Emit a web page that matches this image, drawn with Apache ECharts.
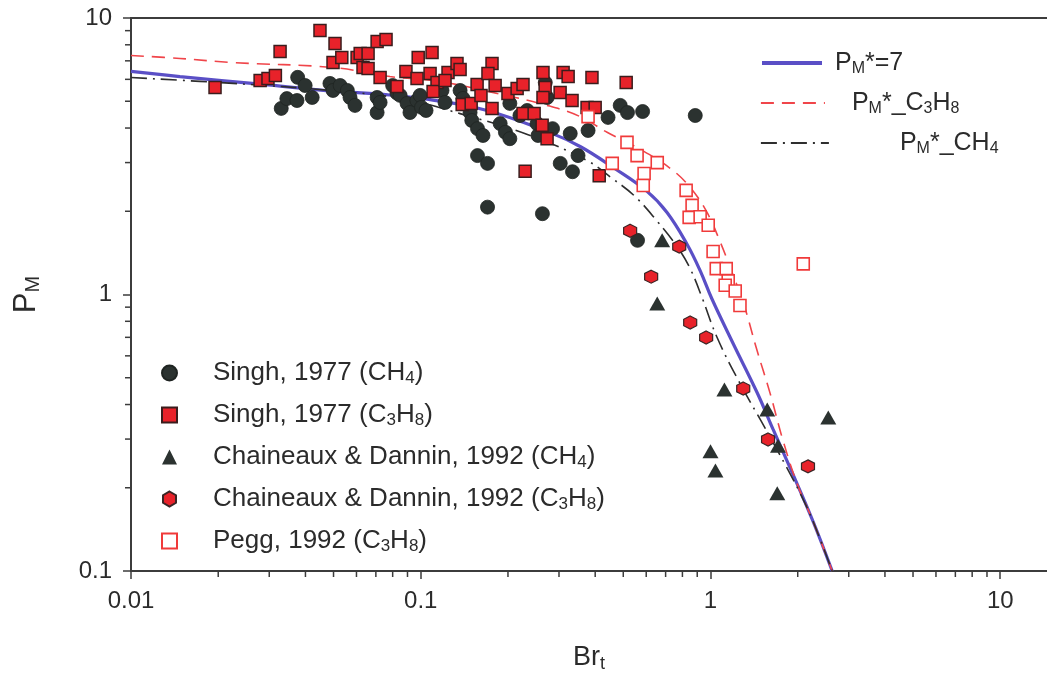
<!DOCTYPE html>
<html><head><meta charset="utf-8">
<script src="https://cdn.jsdelivr.net/npm/echarts@6/dist/echarts.min.js"></script>
<style>html,body{margin:0;padding:0;background:#fff;}#c{width:1047px;height:673px;}</style>
</head><body><div id="c"></div>
<script>
// ---------- data ----------
const xTickLabels = ['0.01', '0.1', '1', '10'];
const yTickLabels = ['0.1', '1', '10'];
const xMinorTicks = [0.02,0.03,0.04,0.05,0.06,0.07,0.08,0.09,0.2,0.3,0.4,0.5,0.6,0.7,0.8,0.9,2,3,4,5,6,7,8,9];
const yMinorTicks = [0.2,0.3,0.4,0.5,0.6,0.7,0.8,0.9,2,3,4,5,6,7,8,9];

const seriesNames = ['Singh, 1977 (CH4)', 'Singh, 1977 (C3H8)', 'Chaineaux & Dannin, 1992 (CH4)', 'Chaineaux & Dannin, 1992 (C3H8)', 'Pegg, 1992 (C3H8)'];
const seriesRich = ['Singh, 1977 (CH{s|4})', 'Singh, 1977 (C{s|3}H{s|8})', 'Chaineaux & Dannin, 1992 (CH{s|4})', 'Chaineaux & Dannin, 1992 (C{s|3}H{s|8})', 'Pegg, 1992 (C{s|3}H{s|8})'];
const lineNames = ['PM*=7', 'PM*_C3H8', 'PM*_CH4'];
const lineRich = ['P{s|M}*=7', 'P{s|M}*_C{s|3}H{s|8}', 'P{s|M}*_CH{s|4}'];

const singhCH4 = [
  [0.0330,4.71],[0.0345,5.11],[0.0374,5.03],[0.0376,6.10],[0.0399,5.70],[0.0422,5.16],[0.0486,5.80],[0.0498,5.47],
  [0.0527,5.70],[0.0558,5.47],[0.0570,5.16],[0.0593,4.83],[0.0707,5.16],[0.0707,4.55],[0.0724,4.95],[0.0800,5.70],
  [0.0828,5.35],[0.0849,5.25],[0.0897,4.91],[0.0918,4.55],[0.0970,5.03],[0.0995,5.25],[0.1006,4.75],[0.1043,4.63],
  [0.1184,5.47],[0.1213,4.95],[0.1367,5.47],[0.1399,5.12],[0.148,4.55],[0.150,4.26],[0.157,3.98],[0.164,3.76],
  [0.157,3.18],[0.170,2.98],[0.170,2.07],[0.188,4.15],[0.196,3.86],[0.203,3.66],[0.203,4.91],[0.220,4.44],
  [0.233,4.63],[0.252,4.15],[0.254,3.76],[0.269,5.84],[0.273,5.16],[0.285,3.98],[0.263,1.96],[0.303,2.98],
  [0.334,2.78],[0.349,3.18],[0.328,3.82],[0.378,3.92],[0.443,4.37],[0.488,4.83],[0.517,4.55],[0.583,4.59],
  [0.560,1.57],[0.886,4.44]
];
const singhC3H8 = [
  [0.0195,5.61],[0.0279,5.94],[0.0297,6.04],[0.0315,6.20],[0.0327,7.57],[0.0449,9.01],[0.0506,8.09],[0.0498,6.90],
  [0.0534,7.20],[0.0603,7.20],[0.0618,7.44],[0.0658,7.44],[0.0707,8.22],[0.0759,8.36],[0.0632,6.62],[0.0658,6.57],
  [0.0724,6.09],[0.0828,5.65],[0.0889,6.41],[0.098,7.20],[0.0971,6.04],[0.1094,7.50],[0.1077,6.30],[0.1138,5.84],
  [0.1103,5.42],[0.1242,6.35],[0.1334,6.85],[0.1367,6.51],[0.1213,5.94],[0.139,4.87],[0.1493,4.91],[0.1565,5.75],
  [0.1614,5.25],[0.1762,6.85],[0.1706,6.30],[0.1806,5.70],[0.1762,4.71],[0.200,5.33],[0.2151,5.56],[0.2254,5.75],
  [0.2254,4.51],[0.2462,4.51],[0.2642,6.35],[0.2687,5.61],[0.2642,5.16],[0.2624,4.09],[0.2729,3.66],[0.3027,5.38],
  [0.310,6.35],[0.3226,6.14],[0.3328,5.03],[0.3899,6.09],[0.375,4.75],[0.3999,4.75],[0.5117,5.84],[0.2292,2.79],
  [0.413,2.69]
];
const chaineauxCH4 = [
  [0.681,1.57],[0.655,0.928],[1.117,0.453],[1.57,0.384],[2.55,0.359],[1.0,0.271],[1.04,0.231],[1.70,0.191],[1.71,0.284]
];
const chaineauxC3H8 = [
  [0.528,1.70],[0.780,1.49],[0.624,1.16],[0.851,0.792],[0.966,0.699],[1.297,0.457],[1.58,0.299],[2.17,0.239]
];
const pegg = [
  [0.378,4.40],[0.515,3.55],[0.558,3.18],[0.458,2.98],[0.655,3.00],[0.590,2.74],[0.586,2.48],[0.824,2.38],
  [0.864,2.10],[0.844,1.90],[0.921,1.91],[0.982,1.78],[1.021,1.43],[1.047,1.24],[1.133,1.24],[1.151,1.12],
  [1.124,1.08],[1.217,1.03],[1.264,0.912],[2.09,1.29]
];
const curvePM7 = [
  [0.01,6.41],[0.01476,6.14],[0.02857,5.75],[0.0461,5.47],[0.0741,5.29],[0.1077,5.07],[0.1694,4.63],[0.2796,3.85],
  [0.3549,3.43],[0.4613,2.88],[0.604,2.36],[0.708,1.98],[0.830,1.52],[0.921,1.22],[1.01,0.967],[1.197,0.665],
  [1.448,0.442],[1.645,0.325],[1.928,0.223],[2.26,0.151],[2.63,0.1]
];
const curveC3H8 = [
  [0.01,7.32],[0.01476,7.14],[0.0225,6.90],[0.0498,6.62],[0.0783,6.14],[0.1166,5.89],[0.1837,5.33],[0.2729,4.83],
  [0.3549,4.40],[0.4395,3.86],[0.572,3.35],[0.726,2.86],[0.851,2.44],[0.973,1.98],[1.08,1.55],[1.17,1.25],
  [1.297,0.935],[1.448,0.627],[1.607,0.438],[1.78,0.296],[1.99,0.207],[2.26,0.151],[2.63,0.1]
];
const curveCH4 = [
  [0.01,6.09],[0.0225,5.80],[0.0486,5.47],[0.0849,5.12],[0.1367,4.51],[0.2385,3.76],[0.375,3.05],[0.458,2.63],
  [0.5496,2.26],[0.655,1.84],[0.767,1.49],[0.851,1.24],[0.935,0.975],[1.054,0.699],[1.264,0.477],[1.545,0.328],
  [1.84,0.235],[2.04,0.191],[2.26,0.151],[2.63,0.1]
];

// ---------- styles ----------
const FONT = 'Liberation Sans, Arial, Helvetica, sans-serif';
const TXT = '#2b2b2b';
const AX = '#3c3c3c';
const hexagon = 'path://M0,-10L8.66,-5L8.66,5L0,10L-8.66,5L-8.66,-5Z';
const subStyle = (size, lh) => ({ fontSize: size, lineHeight: lh, verticalAlign: 'bottom', fontFamily: FONT, color: TXT });
const lineColors = ['#5a4fc6', '#f0454a', '#2e2e2e'];
const lineWidths = [3.2, 1.6, 1.6];
const lineTypes = ['solid', [13, 8], [16, 6, 2, 6]];

const chart = echarts.init(document.getElementById('c'), null, { renderer: 'canvas' });

function minorTicks(vals, dir) {
  return {
    type: 'custom', silent: true, z: 1, clip: false, xAxisIndex: 0, yAxisIndex: 0,
    data: vals.map(v => [v]),
    encode: { x: 0, y: 0 },
    renderItem(params, api) {
      const cs = params.coordSys; const v = api.value(0);
      if (dir === 'x') {
        const p = api.coord([v, 1]); const y0 = cs.y + cs.height;
        return { type: 'line', shape: { x1: p[0], y1: y0, x2: p[0], y2: y0 + 6 }, style: { stroke: AX, lineWidth: 1.5 } };
      }
      const p = api.coord([1, v]);
      return { type: 'line', shape: { x1: cs.x, y1: p[1], x2: cs.x - 6, y2: p[1] }, style: { stroke: AX, lineWidth: 1.5 } };
    }
  };
}

function lineLegend(i, left, top, pad) {
  return {
    data: [lineNames[i]], left: left, top: top, padding: 0, orient: 'horizontal',
    itemWidth: [60, 64, 68][i], itemHeight: 14,
    itemStyle: { opacity: 0 },
    lineStyle: { width: i === 0 ? 4 : 1.8 },
    formatter: () => lineRich[i],
    textStyle: { fontSize: 25, lineHeight: 28, fontFamily: FONT, color: TXT, padding: [0, 0, 0, pad],
      rich: { s: subStyle(16, 16) } }
  };
}

function lineSeries(i, data) {
  return { name: lineNames[i], type: 'line', data: data, symbol: 'none', showSymbol: false, smooth: 0.4, z: 2,
    lineStyle: { color: lineColors[i], width: lineWidths[i], type: lineTypes[i] }, itemStyle: { color: lineColors[i] } };
}

const option = {
  animation: false,
  backgroundColor: '#fff',
  textStyle: { fontFamily: FONT },
  grid: { left: 131, top: 18, right: 0, bottom: 102, containLabel: false, outerBoundsMode: 'none' },
  xAxis: [{
    type: 'log', logBase: 10, min: 0.01, max: 14.5,
    name: 'Br{s|t}', nameLocation: 'middle', nameGap: 72,
    nameTextStyle: { fontSize: 27, lineHeight: 30, fontFamily: FONT, color: TXT, rich: { s: subStyle(18, 18) } },
    axisLine: { show: true, onZero: false, lineStyle: { color: AX, width: 2 } },
    axisTick: { show: true, inside: false, length: 8, lineStyle: { color: AX, width: 1.5 } },
    axisLabel: { fontSize: 24, color: TXT, fontFamily: FONT, margin: 18, showMaxLabel: false,
      formatter: v => { const l = Math.log10(v); const i = Math.round(l) + 2; return Math.abs(l - Math.round(l)) < 1e-6 && xTickLabels[i] !== undefined ? xTickLabels[i] : ''; } },
    splitLine: { show: false }, minorTick: { show: false }
  }, {
    type: 'log', logBase: 10, min: 0.01, max: 14.5, position: 'top',
    axisLine: { show: true, onZero: false, lineStyle: { color: AX, width: 2 } },
    axisTick: { show: false }, axisLabel: { show: false }, splitLine: { show: false }
  }],
  yAxis: [{
    type: 'log', logBase: 10, min: 0.1, max: 10,
    name: 'P{s|M}', nameLocation: 'middle', nameGap: 88, nameRotate: 90,
    nameTextStyle: { fontSize: 31, lineHeight: 34, fontFamily: FONT, color: TXT, rich: { s: subStyle(20, 20) } },
    axisLine: { show: true, onZero: false, lineStyle: { color: AX, width: 2 } },
    axisTick: { show: true, inside: false, length: 8, lineStyle: { color: AX, width: 1.5 } },
    axisLabel: { fontSize: 24, color: TXT, fontFamily: FONT, margin: 19,
      formatter: v => yTickLabels[Math.round(Math.log10(v)) + 1] },
    splitLine: { show: false }
  }],
  legend: [
    lineLegend(0, 760, 49, 8),
    lineLegend(1, 760, 89, 22),
    lineLegend(2, 760, 129, 66),
    {
      data: seriesNames, orient: 'vertical', left: 161, top: 359, padding: 0, itemGap: 14,
      itemWidth: 15, itemHeight: 15,
      formatter: name => seriesRich[seriesNames.indexOf(name)],
      textStyle: { fontSize: 26, lineHeight: 28, fontFamily: FONT, color: TXT, padding: [0, 0, 0, 31],
        rich: { s: subStyle(17, 17) } }
    }
  ],
  series: [
    minorTicks(xMinorTicks, 'x'),
    minorTicks(yMinorTicks, 'y'),
    lineSeries(0, curvePM7),
    lineSeries(1, curveC3H8),
    lineSeries(2, curveCH4),
    { name: seriesNames[0], type: 'scatter', data: singhCH4, symbol: 'circle', symbolSize: 14, z: 3,
      itemStyle: { color: '#2b3230', borderColor: '#1f2422', borderWidth: 0.8, opacity: 1 } },
    { name: seriesNames[1], type: 'scatter', data: singhC3H8, symbol: 'rect', symbolSize: 12, z: 4,
      itemStyle: { color: '#e8222a', borderColor: '#3a1d1d', borderWidth: 1.5, opacity: 1 } },
    { name: seriesNames[2], type: 'scatter', data: chaineauxCH4, symbol: 'triangle', symbolSize: [16, 14], z: 4,
      itemStyle: { color: '#2b3230', opacity: 1 } },
    { name: seriesNames[3], type: 'scatter', data: chaineauxC3H8, symbol: hexagon, symbolSize: 13, z: 4,
      itemStyle: { color: '#e8222a', borderColor: '#3a2525', borderWidth: 1.2, opacity: 1 } },
    { name: seriesNames[4], type: 'scatter', data: pegg, symbol: 'rect', symbolSize: 12, z: 4,
      itemStyle: { color: '#ffffff', borderColor: '#f03a3a', borderWidth: 1.6, opacity: 1 } }
  ]
};
chart.setOption(option);
</script></body></html>
